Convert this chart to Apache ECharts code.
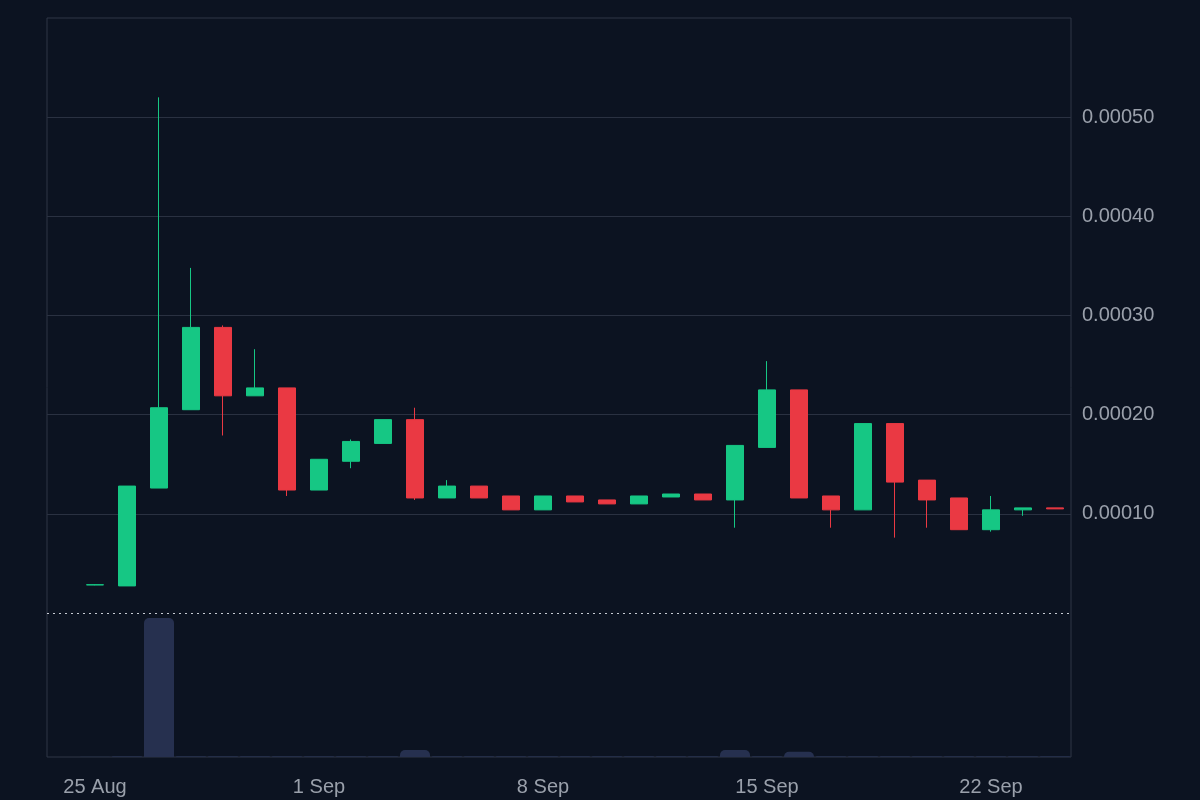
<!DOCTYPE html>
<html>
<head>
<meta charset="utf-8">
<script src="https://cdn.jsdelivr.net/npm/echarts@6/dist/echarts.min.js"></script>
<style>html,body{margin:0;background:#0c1321;}#chart{width:1200px;height:800px;}</style>
</head>
<body>
<div id="chart"></div>
<script>
var dates = ['24 Aug','25 Aug','26 Aug','27 Aug','28 Aug','29 Aug','30 Aug','31 Aug',
  '1 Sep','2 Sep','3 Sep','4 Sep','5 Sep','6 Sep','7 Sep','8 Sep','9 Sep','10 Sep','11 Sep',
  '12 Sep','13 Sep','14 Sep','15 Sep','16 Sep','17 Sep','18 Sep','19 Sep','20 Sep','21 Sep',
  '22 Sep','23 Sep','24 Sep'];
// [open, close, low, high]
var ohlc = [
  '-',
  [0.0000283,0.0000285,0.0000280,0.0000288],
  [0.0000273,0.000128,0.0000273,0.000128],
  [0.000126,0.000207,0.000126,0.00052],
  [0.000205,0.000288,0.000205,0.000348],
  [0.000288,0.000219,0.000179,0.00029],
  [0.000219,0.000227,0.000219,0.000266],
  [0.000227,0.000124,0.000118,0.000227],
  [0.000124,0.000155,0.000124,0.000155],
  [0.000153,0.000173,0.000146,0.000175],
  [0.000171,0.000195,0.000171,0.000195],
  [0.000195,0.000116,0.000114,0.000207],
  [0.000116,0.000128,0.000116,0.000134],
  [0.000128,0.000116,0.000116,0.000128],
  [0.000118,0.000104,0.000104,0.000118],
  [0.000104,0.000118,0.000104,0.000118],
  [0.000118,0.000112,0.000112,0.000118],
  [0.000114,0.000110,0.000110,0.000114],
  [0.000110,0.000118,0.000110,0.000118],
  [0.000117,0.000120,0.000117,0.000120],
  [0.000120,0.000114,0.000114,0.000120],
  [0.000114,0.000169,0.000086,0.000169],
  [0.000167,0.000225,0.000167,0.000254],
  [0.000225,0.000116,0.000116,0.000225],
  [0.000118,0.000104,0.000086,0.000118],
  [0.000104,0.000191,0.000104,0.000191],
  [0.000191,0.000132,0.000076,0.000191],
  [0.000134,0.000114,0.000086,0.000134],
  [0.000116,0.000084,0.000084,0.000116],
  [0.000084,0.000104,0.000082,0.000118],
  [0.000104,0.000106,0.000098,0.000106],
  [0.000106,0.000105,0.000105,0.000106]
];
var volume = [0,0.05,0.1,18.8,0.1,0.1,0.1,0.1,0.1,0.1,0.1,0.95,0.1,0.1,0.1,0.1,0.1,0.1,0.1,
  0.1,0.1,0.95,0.1,0.7,0.1,0.1,0.1,0.1,0.1,0.1,0.1,0.1];
var lastPrice = 0.000105;
var shownLabels = ['25 Aug','1 Sep','8 Sep','15 Sep','22 Sep'];

var closes = [];
for (var i = 0; i < ohlc.length; i++) {
  closes.push(ohlc[i] === '-' ? '-' : ohlc[i][1]);
}

var myChart = echarts.init(document.getElementById('chart'));
var gridLine = '#2a3141';
var option = {
  backgroundColor: '#0c1321',
  animation: false,
  grid: [
    {left: 47, right: 129, top: 18, bottom: 187},
    {left: 47, right: 129, top: 18, bottom: 43, show: true, borderColor: '#2f3646', borderWidth: 1}
  ],
  xAxis: [
    {type: 'category', gridIndex: 0, data: dates, show: false},
    {type: 'category', gridIndex: 1, data: dates,
      axisLine: {show: false}, axisTick: {show: false},
      axisLabel: {color: '#9aa0ab', fontSize: 20, margin: 20, fontFamily: 'Liberation Sans',
        interval: function (i, v) { return shownLabels.indexOf(v) >= 0; }}}
  ],
  yAxis: [
    {type: 'value', gridIndex: 0, position: 'right', min: 0, max: 0.0006, interval: 0.0001,
      axisLine: {show: false}, axisTick: {show: false},
      splitLine: {lineStyle: {color: ['transparent', gridLine, gridLine, gridLine, gridLine, gridLine, 'transparent']}},
      axisLabel: {color: '#9aa0ab', fontSize: 20, margin: 11, fontFamily: 'Liberation Sans',
        formatter: function (v) { return (v <= 0 || v >= 0.0006) ? '' : v.toFixed(5); }}},
    {type: 'value', gridIndex: 1, min: 0, max: 100, show: false}
  ],
  series: [
    {type: 'bar', xAxisIndex: 1, yAxisIndex: 1, data: volume, barWidth: 30,
      itemStyle: {color: '#26304f', borderRadius: [5, 5, 0, 0]}},
    {type: 'candlestick', xAxisIndex: 0, yAxisIndex: 0, data: ohlc, barWidth: 18,
      itemStyle: {color: '#16c784', color0: '#ea3943', borderColor: '#16c784', borderColor0: '#ea3943', borderWidth: 1}},
    {type: 'line', xAxisIndex: 0, yAxisIndex: 0, data: closes, symbol: 'none', silent: true,
      lineStyle: {opacity: 0},
      markLine: {symbol: 'none', silent: true, label: {show: false},
        lineStyle: {color: '#c8ccd4', type: [2, 4], width: 1},
        data: [{yAxis: lastPrice}]}}
  ]
};
myChart.setOption(option);
</script>
</body>
</html>
